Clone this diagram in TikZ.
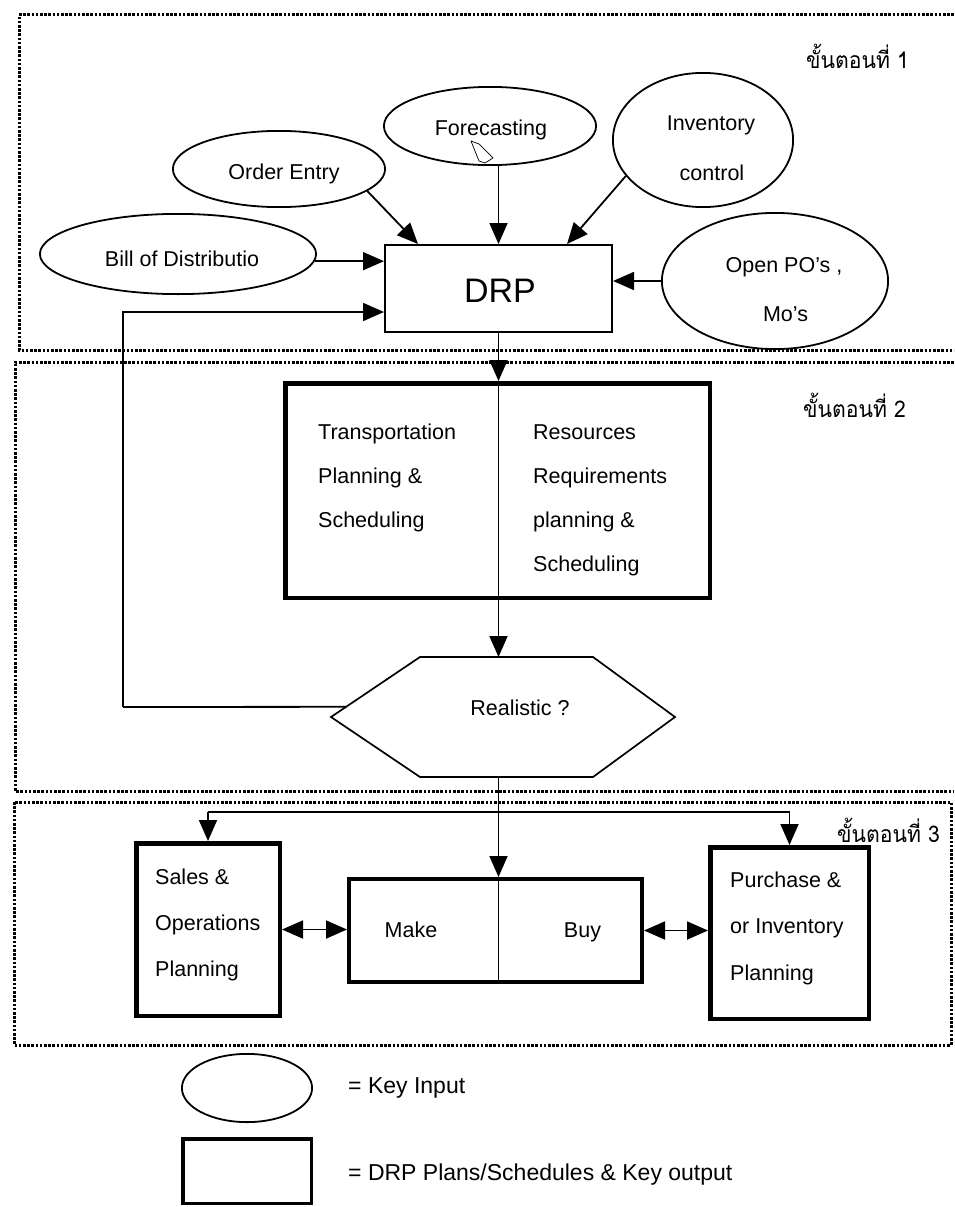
\documentclass[tikz,border=0pt]{standalone}
\usepackage{fontspec}
\setmainfont{Liberation Sans}
\newfontfamily\thaifont[Script=Thai]{Loma}
\usetikzlibrary{arrows.meta,shapes.geometric,calc}

\begin{document}
\begin{tikzpicture}[x=1pt,y=-1pt,
  inputshape/.style={ellipse,draw,line width=1.8pt,inner sep=0pt},
  plainbox/.style={rectangle,draw,line width=1.8pt,inner sep=0pt},
  heavybox/.style={rectangle,draw,line width=4.5pt,inner sep=0pt},
  txt/.style={inner sep=0pt,font=\fontsize{21.5}{26}\selectfont},
  ctxt/.style={txt,anchor=base},
  blocktxt/.style={inner sep=0pt,anchor=north west,align=left},
  legtxt/.style={inner sep=0pt,anchor=base west,font=\fontsize{23}{28}\selectfont},
  stage/.style={inner sep=0pt,anchor=base west,xscale=0.92,font=\thaifont\fontsize{23}{28}\selectfont},
  zone/.style={line width=3pt,dash pattern=on 2.6pt off 1.6pt},
  link/.style={line width=1.8pt},
  tip/.tip={Triangle[length=21pt,width=18pt]},
  arr/.style={link,-tip},
  dblarr/.style={link,tip-tip},
]
\useasboundingbox (0,0) rectangle (954,1207);
\fill[white] (0,0) rectangle (954,1207);

% ---- stage frames (dotted) ----
\draw[zone] (954,15) -- (19,15) -- (19,350) -- (954,350);
\draw[zone] (954,362) -- (15,362) -- (15,791) -- (954,791);
\draw[zone] (14,802) rectangle (951,1045);

\node[stage] (st1) at (806,68) {ขั้นตอนที่ 1};
\node[stage] (st2) at (803,417) {ขั้นตอนที่ 2};
\node[stage] (st3) at (837,842) {ขั้นตอนที่ 3};

% ---- stage 1: key inputs and DRP ----
\node[inputshape,minimum width=212.2pt,minimum height=78.2pt] (fore) at (490,126) {};
\node[inputshape,minimum width=212.2pt,minimum height=76.2pt] (order) at (279,169) {};
\node[inputshape,minimum width=180.2pt,minimum height=134.2pt] (inv) at (703,140) {};
\node[inputshape,minimum width=276.2pt,minimum height=80.2pt] (bill) at (178,254) {};
\node[inputshape,minimum width=226.2pt,minimum height=136.2pt] (open) at (775,281) {};
\node[plainbox,minimum width=227.2pt,minimum height=87.2pt] (drp) at (498.5,288.5) {};

\node[ctxt] (foreT) at (491,135) {Forecasting};
\node[ctxt] (orderT) at (284,179) {Order Entry};
\node[ctxt] (invT1) at (711,130) {Inventory};
\node[ctxt] (invT2) at (712,180) {control};
\node[ctxt] (billT) at (182,266) {Bill of Distributio};
\node[ctxt] (openT1) at (784,272) {Open PO's ,};
\node[ctxt] (openT2) at (785.5,321) {Mo's};
\node[inner sep=0pt,anchor=base,font=\fontsize{34}{40}\selectfont] (drpT) at (500,302) {DRP};

% small pointer outline inside the forecasting ellipse
\draw[line width=0.7pt,line join=round] (471,141) -- (479,144) -- (493,158) -- (485,163) -- (479,161) -- (475,151) -- cycle;

\draw[arr] (bill.-3) -- (bill.-3 -| drp.west);
\draw[arr] (order.-14) -- ($(drp.north west)+(34,0)$);
\draw[arr] (fore.south -| drp.north) -- (drp.north);
\draw[arr] (inv.205) -- ($(drp.north east)+(-46,0)$);
\draw[arr] (open.west) -- (open.west -| drp.east);

% ---- stage 2: planning and check ----
\node[heavybox,minimum width=424.5pt,minimum height=214.5pt] (plan) at (497.5,490.5) {};
\node[blocktxt,font=\fontsize{21.5}{44}\selectfont] (planL) at (318,423.5) {Transportation\\Planning \&\\Scheduling};
\node[blocktxt,font=\fontsize{21.5}{44}\selectfont] (planR) at (533,424.5) {Resources\\Requirements\\planning \&\\Scheduling};

\coordinate (h1) at (420,657);
\coordinate (h2) at (593,657);
\coordinate (h3) at (675,717);
\coordinate (h4) at (593,777);
\coordinate (h5) at (420,777);
\coordinate (h6) at (331,717);
\draw[line width=1.7pt,line join=miter] (h1) -- (h2) -- (h3) -- (h4) -- (h5) -- (h6) -- cycle;
\node[ctxt] (hexT) at (520,715) {Realistic ?};

\draw[arr] (drp.south) -- (drp.south |- plan.north);
\draw[line width=1.5pt] (drp.south |- plan.north) -- (drp.south |- plan.south);
\draw[arr] (drp.south |- plan.south) -- (drp.south |- h1);

\coordinate (fb) at ($(h6)!0.17!(h1)$);
\coordinate (fbturn) at (123,707);
\draw[link] (fb) -- (fbturn);
\draw[arr] (fbturn) |- ([yshift=-23.5pt]drp.west);

% ---- stage 3: outputs ----
\node[heavybox,minimum width=143.5pt,minimum height=172.5pt] (sales) at (208,929.5) {};
\node[heavybox,line width=4pt,minimum width=293pt,minimum height=103pt] (mb) at (495.5,930.5) {};
\node[heavybox,minimum width=158.5pt,minimum height=171.5pt] (purch) at (789.5,933) {};

\node[blocktxt,font=\fontsize{21.5}{46}\selectfont] (salesT) at (155,868.5) {Sales \&\\Operations\\Planning};
\node[blocktxt,font=\fontsize{21.5}{46.5}\selectfont] (purchT) at (730,871.5) {Purchase \&\\or Inventory\\Planning};
\node[ctxt] (makeT) at (411,937) {Make};
\node[ctxt] (buyT) at (582.5,937) {Buy};

\coordinate (split) at (498.5,812);
\draw[arr] (drp.south |- h5) -- (drp.south |- mb.north);
\draw[line width=1.5pt] (drp.south |- mb.north) -- (drp.south |- mb.south);
\draw[link] (sales.north |- split) -- (purch.north |- split);
\draw[arr] (sales.north |- split) -- (sales.north);
\draw[arr] (purch.north |- split) -- (purch.north);
\draw[dblarr] (sales.east) -- (sales.east -| mb.west);
\draw[dblarr] (mb.east) -- (mb.east -| purch.west);

% ---- legend ----
\node[inputshape,minimum width=130.2pt,minimum height=68.2pt] (legIn) at (247,1088) {};
\node[heavybox,line width=3.5pt,minimum width=128.5pt,minimum height=64.5pt] (legOut) at (247,1171) {};
\node[legtxt] (legInT) at (348,1093) {= Key Input};
\node[legtxt] (legOutT) at (348,1180) {= DRP Plans/Schedules \& Key output};
\end{tikzpicture}
\end{document}
